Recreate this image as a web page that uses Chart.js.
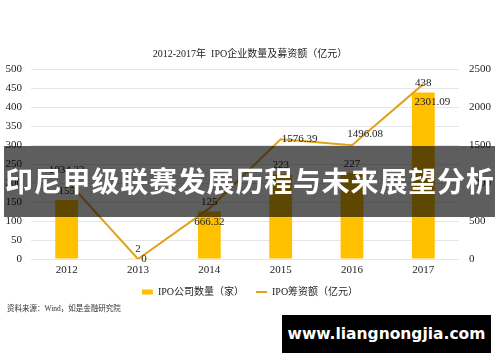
<!DOCTYPE html>
<html>
<head>
<meta charset="utf-8">
<script src="https://cdn.jsdelivr.net/npm/chart.js@4.4.0/dist/chart.umd.min.js"></script>
<style>
    html, body { margin: 0; padding: 0; background: #fff; }
    #wrap { position: relative; width: 500px; height: 362px; overflow: hidden; }
    #chart-box { position: absolute; left: 0; top: 0; width: 500px; height: 362px; }
    .source {
        position: absolute; left: 7px; top: 302px;
        font: 7.5px "Liberation Serif", "Noto Sans CJK SC"; color: #333; white-space: nowrap;
    }
    .banner {
        position: absolute; left: 4px; top: 146px; width: 491px; height: 71px;
        background: rgba(0, 0, 0, 0.63);
    }
    .banner span {
        position: absolute; left: 1px; top: 20px; white-space: nowrap;
        font: bold 28px "Noto Sans CJK SC"; letter-spacing: 0.8px; color: #fff; line-height: 28px;
    }
    .mark {
        position: absolute; left: 282px; top: 315px; width: 209px; height: 38px;
        background: #000; color: #fff; text-align: center;
        font: bold 15.5px "DejaVu Sans"; line-height: 38px; white-space: nowrap;
    }
</style>
</head>
<body>
<div id="wrap">
    <div id="chart-box"><canvas id="ipo-chart"></canvas></div>
    <div class="source">资料来源：Wind，如是金融研究院</div>
    <div class="banner"><span>印尼甲级联赛发展历程与未来展望分析</span></div>
    <div class="mark">www.liangnongjia.com</div>
</div>

<script>
const years = ['2012', '2013', '2014', '2015', '2016', '2017'];
const ipoCount = [155, 2, 125, 223, 227, 438];
const ipoAmount = [1034.32, 0, 666.32, 1576.39, 1496.08, 2301.09];
const countTicks = [0, 50, 100, 150, 200, 250, 300, 350, 400, 450, 500];
const amountTicks = [0, 500, 1000, 1500, 2000, 2500];

const serif = '"Liberation Serif", "Noto Sans CJK SC"';

// where each amount label sits relative to its point
const amountLabelShift = [[0, -10], [6, 0], [0, 14], [19, 0], [13, -11], [9, 18]];

const valueLabels = {
    id: 'valueLabels',
    afterDatasetsDraw(chart) {
        const ctx = chart.ctx;
        ctx.save();
        ctx.font = '11px ' + serif;
        ctx.fillStyle = '#222';
        ctx.textAlign = 'center';
        ctx.textBaseline = 'middle';
        chart.getDatasetMeta(0).data.forEach((bar, i) => {
            ctx.fillText(String(ipoCount[i]), bar.x, bar.y - 9);
        });
        chart.getDatasetMeta(1).data.forEach((pt, i) => {
            const [dx, dy] = amountLabelShift[i];
            ctx.fillText(ipoAmount[i] === 0 ? '0' : ipoAmount[i].toFixed(2), pt.x + dx, pt.y + dy);
        });
        ctx.restore();
    }
};

new Chart(document.getElementById('ipo-chart'), {
    type: 'bar',
    plugins: [valueLabels],
    options: {
        responsive: true,
        maintainAspectRatio: false,
        animation: false,
        layout: { padding: { left: 0, right: 0, top: 0, bottom: 55 } },
        scales: {
            x: {
                offset: true,
                grid: { display: false, drawTicks: false },
                border: { display: false },
                ticks: { padding: 5, color: '#222', font: { family: serif, size: 11 } },
                afterFit: (scale) => { scale.height = 16; }
            },
            y: {
                position: 'left',
                min: 0,
                max: 500,
                afterBuildTicks: (scale) => { scale.ticks = countTicks.map(v => ({ value: v })); },
                grid: { color: '#e6e6e6', drawTicks: false },
                border: { display: false },
                ticks: { padding: 9, color: '#222', font: { family: serif, size: 11 } },
                afterFit: (scale) => { scale.width = 31; }
            },
            y1: {
                position: 'right',
                min: 0,
                max: 2500,
                afterBuildTicks: (scale) => { scale.ticks = amountTicks.map(v => ({ value: v })); },
                grid: { drawOnChartArea: false, drawTicks: false },
                border: { display: false },
                ticks: {
                    padding: 10, color: '#222', font: { family: serif, size: 11 },
                    callback: (v) => String(v)
                },
                afterFit: (scale) => { scale.width = 41; }
            }
        },
        plugins: {
            title: {
                display: true,
                text: '2012-2017年  IPO企业数量及募资额（亿元）',
                color: '#222',
                font: { family: serif, size: 10, weight: 'normal' },
                padding: { top: 48, bottom: 9 }
            },
            legend: {
                display: true,
                position: 'bottom',
                labels: {
                    color: '#222',
                    font: { family: serif, size: 10 },
                    usePointStyle: true,
                    pointStyleWidth: 11,
                    boxHeight: 5,
                    padding: 12,
                    sort: (a, b) => a.datasetIndex - b.datasetIndex
                }
            },
            tooltip: { enabled: false }
        }
    },
    data: {
        labels: years,
        datasets: [
            {
                type: 'bar',
                label: 'IPO公司数量（家）',
                data: ipoCount,
                yAxisID: 'y',
                backgroundColor: '#FFC000',
                borderWidth: 0,
                pointStyle: 'rect',
                barPercentage: 0.64,
                categoryPercentage: 0.5,
                order: 1
            },
            {
                type: 'line',
                label: 'IPO筹资额（亿元）',
                data: ipoAmount,
                yAxisID: 'y1',
                borderColor: '#E4A11B',
                backgroundColor: '#E4A11B',
                borderWidth: 2,
                pointRadius: 0,
                pointStyle: 'line',
                tension: 0,
                order: 0
            }
        ]
    }
});
</script>
</body>
</html>
